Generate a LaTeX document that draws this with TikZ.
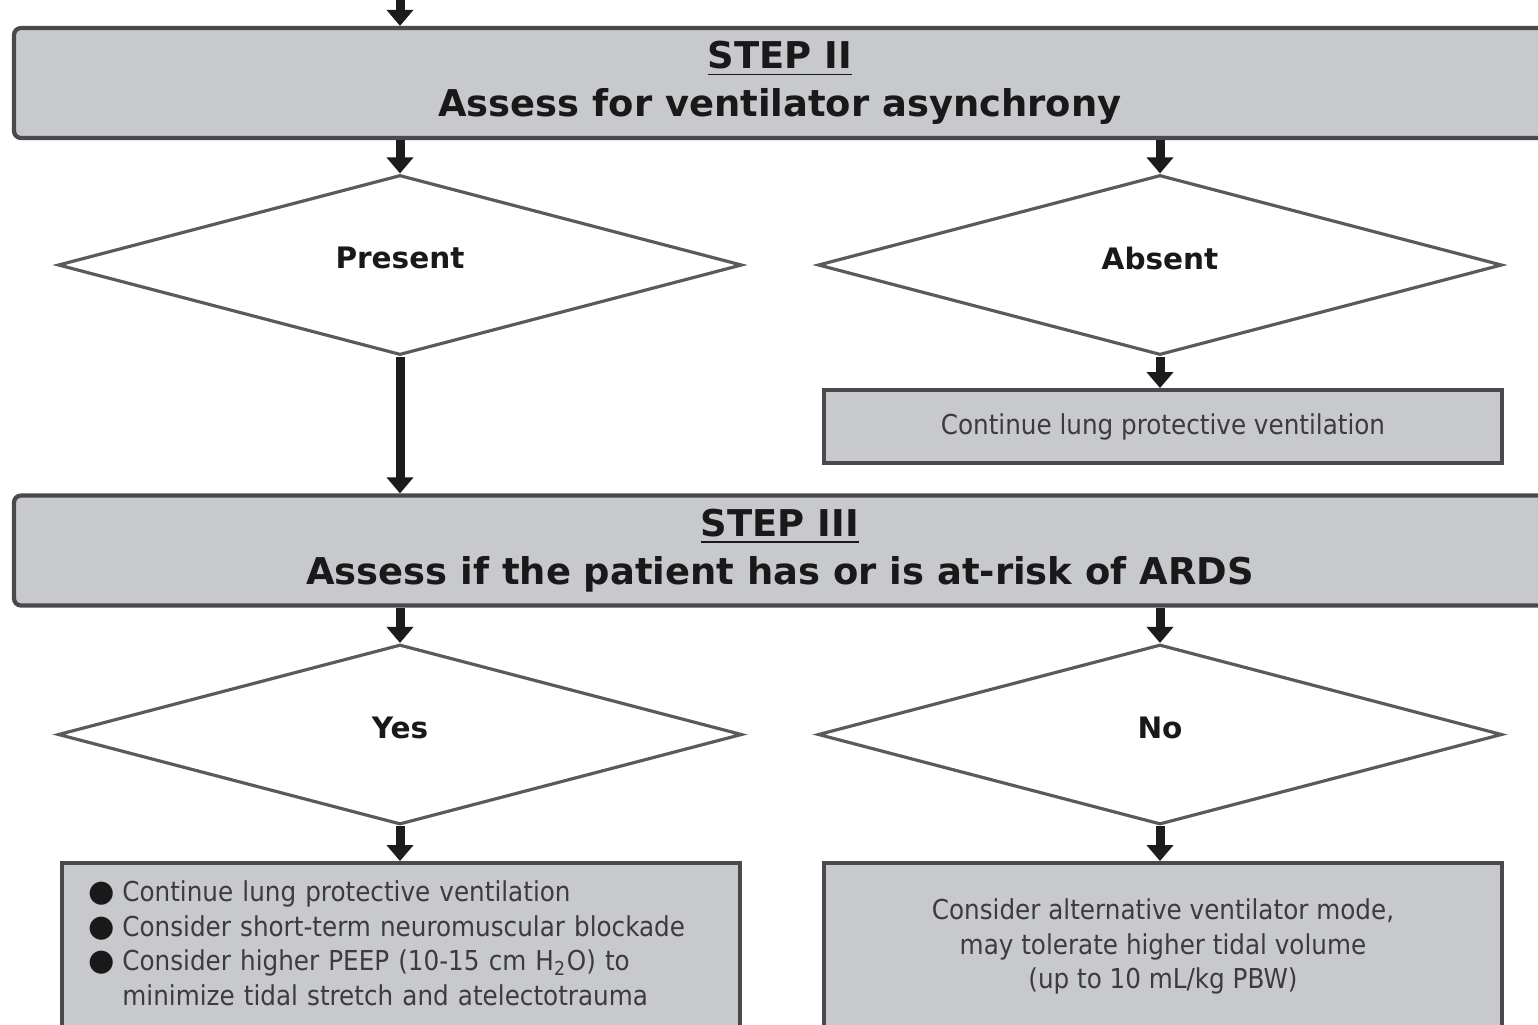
\documentclass[tikz,border=0pt]{standalone}
\usepackage{fontspec}
\setmainfont{DejaVu Sans}
\newfontfamily\bodyfont{DejaVu Sans Condensed}
\newfontfamily\symfont{DejaVu Sans}
\usetikzlibrary{shapes.geometric,arrows.meta}
\definecolor{boxgrey}{HTML}{C8C9CC}
\definecolor{edgegrey}{HTML}{4A4A4C}
\definecolor{dmdgrey}{HTML}{5A5A5C}
\definecolor{inkgrey}{HTML}{3C3C3E}
\definecolor{arrowink}{HTML}{1C1C1C}
\newcommand{\blob}{{\symfont\fontsize{8.6}{8.6}\selectfont\color{black!90}●}}

\begin{document}
\begin{tikzpicture}[line width=1pt,
  stepbox/.style={draw=edgegrey, line width=1.2pt, fill=boxgrey, rounded corners=2pt,
    minimum width=15.32cm, minimum height=1.10cm, align=center, inner sep=0pt,
    font=\fontsize{10.5}{13.6}\selectfont\bfseries, text=black!90},
  choice/.style={diamond, draw=dmdgrey, line width=0.9pt, fill=white, inner sep=0pt,
    minimum width=6.84cm, minimum height=1.80cm, text depth=0.14cm,
    font=\fontsize{8.4}{10}\selectfont\bfseries, text=black!90},
  actbox/.style={draw=edgegrey, line width=1.1pt, fill=boxgrey,
    minimum width=6.78cm, inner sep=0pt,
    font=\bodyfont\fontsize{7.8}{9.8}\selectfont, text=inkgrey},
  flow/.style={draw=arrowink, line width=0.09cm, -{Triangle[width=0.26cm,length=0.16cm]}}]
\path[use as bounding box, clip] (0,0) rectangle (15.38,-10.24);
\fill[white] (0,0) rectangle (15.38,-10.24);
%% box Step II
\node[stepbox] (step2) at (7.80,-0.83) {\underline{STEP II}\\Assess for ventilator asynchrony};
\coordinate (entry) at (4.00,0.05);
%% Present / Absent
\node[choice] (present) at (4.00,-2.65) {Present};
\node[choice] (absent) at (11.60,-2.65) {Absent};
\node[actbox, minimum height=0.73cm] (keep) at (11.63,-4.265) {Continue lung protective ventilation};
%% box Step III
\node[stepbox] (step3) at (7.80,-5.505) {\underline{STEP III}\\Assess if the patient has or is at-risk of ARDS};
%% Yes / No
\node[choice] (yes) at (4.00,-7.345) {Yes};
\node[choice] (no) at (11.60,-7.345) {No};
\node[actbox, minimum height=1.67cm, text width=6.24cm, inner xsep=0.26cm, align=left] (ards) at (4.01,-9.465)
  {\begin{tabular}{@{}l@{\hspace{2pt}}l@{}}
   \blob & Continue lung protective ventilation\\
   \blob & Consider short-term neuromuscular blockade\\
   \blob & Consider higher PEEP (10-15 cm H\textsubscript{2}O) to\\
     & minimize tidal stretch and atelectotrauma
   \end{tabular}};
\node[actbox, minimum height=1.67cm, align=center] (noards) at (11.63,-9.465)
  {Consider alternative ventilator mode,\\may tolerate higher tidal volume\\(up to 10 mL/kg PBW)};
%% arrows
\draw[flow] (entry) -- (entry |- step2.north);
\draw[flow] (present.north |- step2.south) -- (present.north);
\draw[flow] (absent.north |- step2.south) -- (absent.north);
\draw[flow] (absent.south) -- (keep.north -| absent.south);
\draw[flow] (present.south) -- (present.south |- step3.north);
\draw[flow] (yes.north |- step3.south) -- (yes.north);
\draw[flow] (no.north |- step3.south) -- (no.north);
\draw[flow] (yes.south) -- (ards.north -| yes.south);
\draw[flow] (no.south) -- (noards.north -| no.south);
\end{tikzpicture}
\end{document}
